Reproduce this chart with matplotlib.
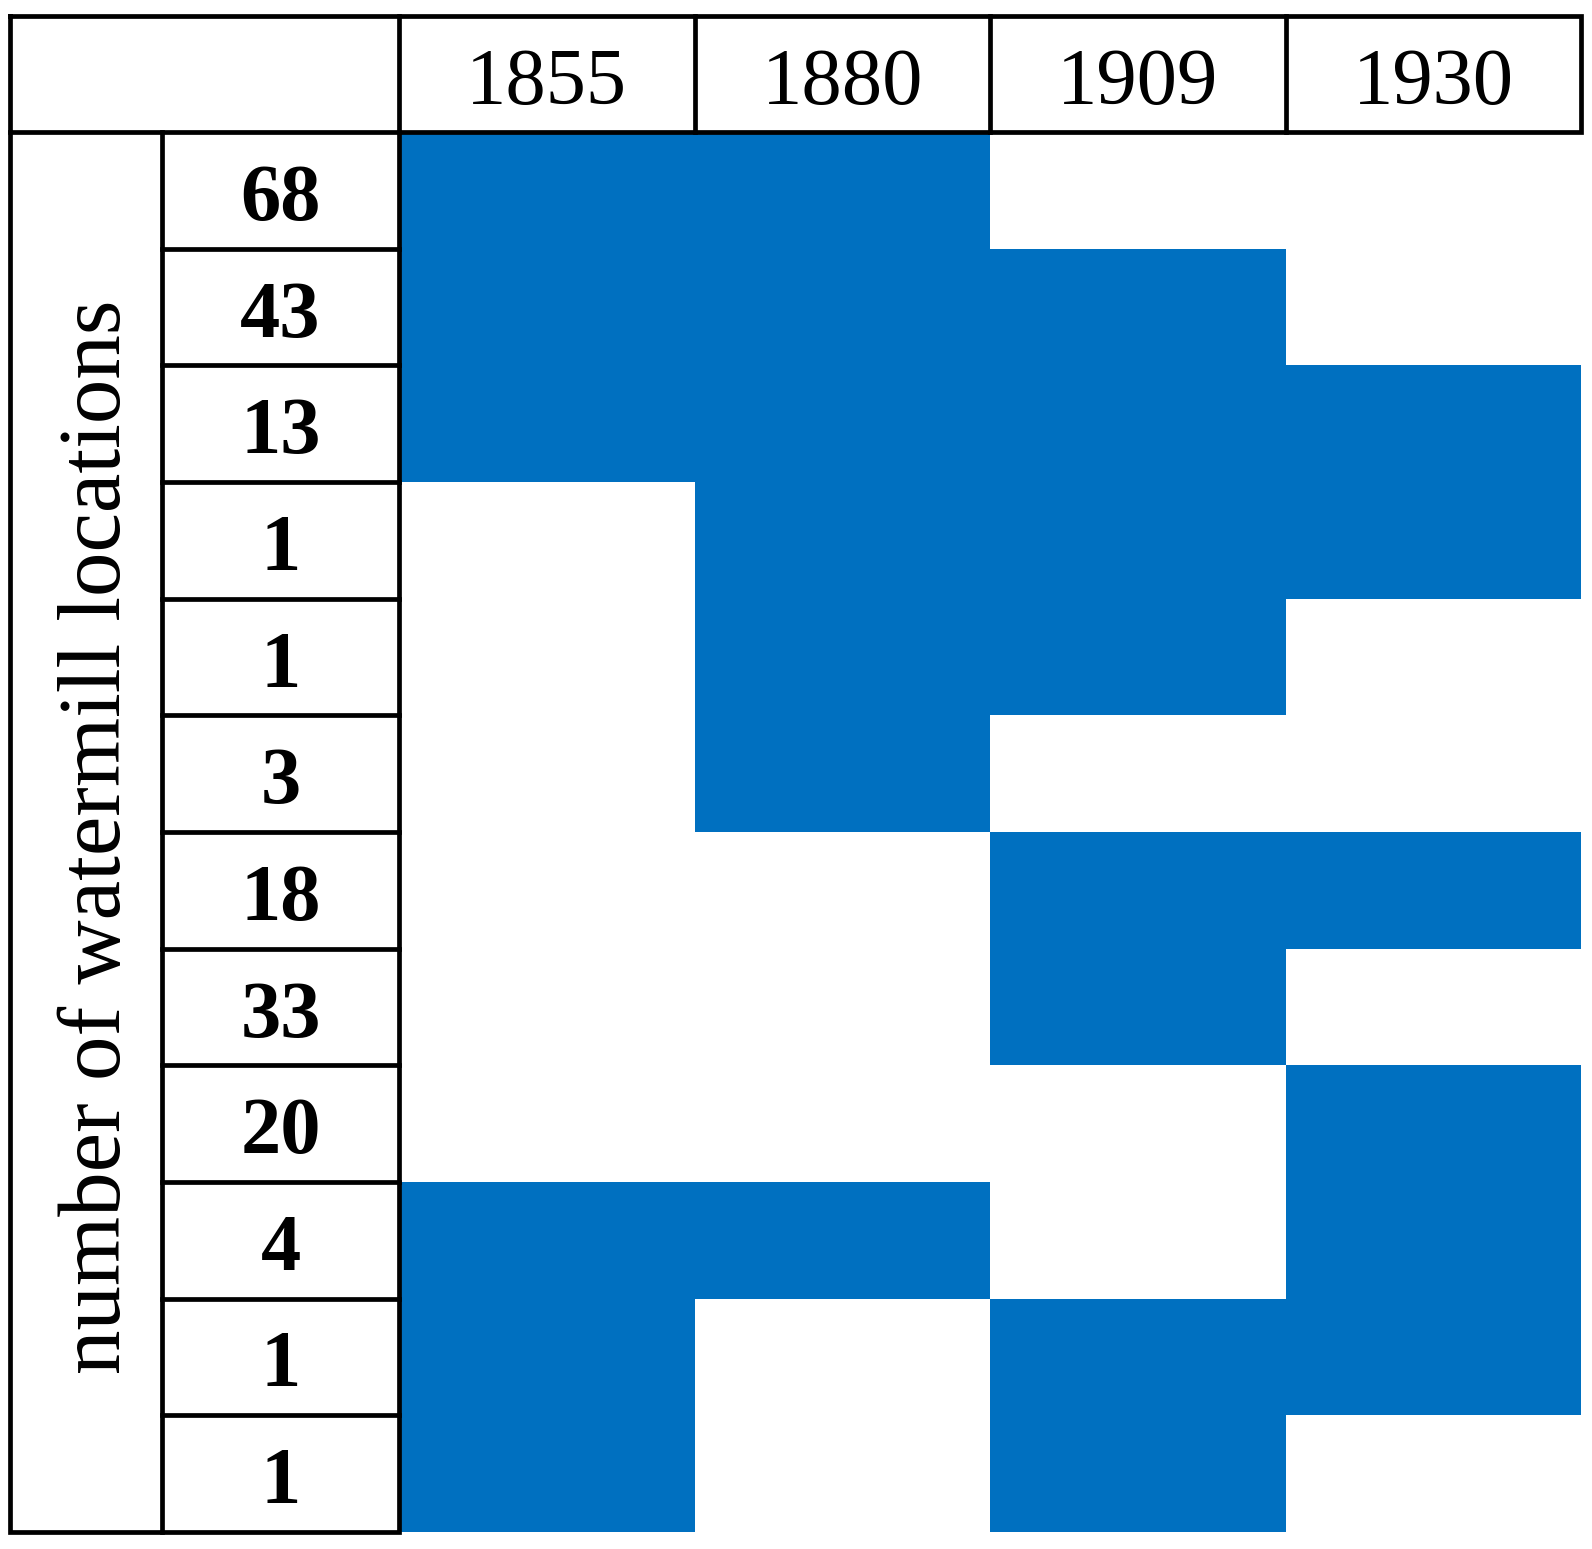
import numpy as np
import matplotlib
matplotlib.use("Agg")
import matplotlib.pyplot as plt
from matplotlib.colors import ListedColormap

# data
years = ["1855", "1880", "1909", "1930"]
counts = [68, 43, 13, 1, 1, 3, 18, 33, 20, 4, 1, 1]
# 1 = watermill location present in that year's map
present = [
    [1, 1, 0, 0],
    [1, 1, 1, 0],
    [1, 1, 1, 1],
    [0, 1, 1, 1],
    [0, 1, 1, 0],
    [0, 1, 0, 0],
    [0, 0, 1, 1],
    [0, 0, 1, 0],
    [0, 0, 0, 1],
    [1, 1, 0, 1],
    [1, 0, 1, 1],
    [1, 0, 1, 0],
]
row_label = "number of watermill locations"

BLUE = "#0070C0"
LW = 3.4
plt.rcParams['font.family'] = ['Liberation Serif', 'DejaVu Serif']

# layout in pixels (figure is 1592 x 1549)
W, H = 1592, 1549
x_left, x_num, x_grid, x_right = 10, 162, 399, 1581
y_top, y_head, y_bot = 16, 132, 1532

fig = plt.figure(figsize=(W / 100, H / 100), dpi=100)
ax = fig.add_axes([0, 0, 1, 1])
ax.set_xlim(0, W)
ax.set_ylim(H, 0)
ax.axis("off")

col_edges = np.linspace(x_grid, x_right, len(years) + 1)
row_edges = np.linspace(y_head, y_bot, len(counts) + 1)

# presence grid
ax.pcolormesh(col_edges, row_edges, np.array(present),
              cmap=ListedColormap(["white", BLUE]), vmin=0, vmax=1,
              shading="flat", zorder=1)

# header box
ax.plot([x_left, x_right, x_right, x_left, x_left],
        [y_top, y_top, y_head, y_head, y_top], color="black", lw=LW, zorder=3,
        solid_joinstyle="miter")
for xe in col_edges[:-1]:
    ax.plot([xe, xe], [y_top, y_head], color="black", lw=LW, zorder=3)
for i, yr in enumerate(years):
    xc = (col_edges[i] + col_edges[i + 1]) / 2
    ax.text(xc, (y_top + y_head) / 2 + 10, yr, ha="center", va="center",
            fontsize=58, zorder=4)

# left label block
ax.plot([x_left, x_left, x_grid, x_grid],
        [y_head, y_bot, y_bot, y_head], color="black", lw=LW, zorder=3,
        solid_joinstyle="miter")
ax.plot([x_num, x_num], [y_head, y_bot], color="black", lw=LW, zorder=3)
for ye in row_edges[1:-1]:
    ax.plot([x_num, x_grid], [ye, ye], color="black", lw=LW, zorder=3)
for i, c in enumerate(counts):
    yc = (row_edges[i] + row_edges[i + 1]) / 2
    ax.text((x_num + x_grid) / 2, yc + 10, str(c), ha="center", va="center",
            fontsize=58, fontweight="bold", zorder=4)

ax.text(99, (y_head + y_bot) / 2 + 5, row_label,
        rotation=90, ha="center", va="center", fontsize=64, zorder=4)

fig.savefig("out.png", dpi=100, facecolor="white")
